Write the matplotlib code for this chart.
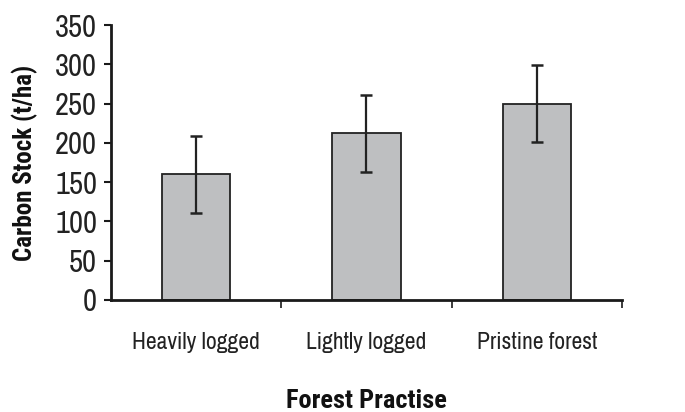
import matplotlib
matplotlib.use("Agg")
import matplotlib.pyplot as plt
from matplotlib import font_manager
import numpy as np

# values
practices = ["Heavily logged", "Lightly logged", "Pristine forest"]
carbon_stock = [160, 212, 250]
carbon_err = [49, 49, 49]
y_ticks = [0, 50, 100, 150, 200, 250, 300, 350]

# the reference uses a condensed grotesque; Archivo Narrow has no bold here,
# so the bold axis titles use Roboto Condensed
names = {f.name for f in font_manager.fontManager.ttflist}
body = "Archivo Narrow" if "Archivo Narrow" in names else "DejaVu Sans"
bold = "Roboto Condensed" if "Roboto Condensed" in names else "DejaVu Sans"
plt.rcParams["font.family"] = [body, "DejaVu Sans"]

fig = plt.figure(figsize=(6.85, 4.12), dpi=100)
ax = fig.add_axes([0.162, 0.272, 0.746, 0.667])

x = np.arange(len(practices))
ax.bar(x, carbon_stock, width=0.4, color="#bebfc1", edgecolor="#222222", linewidth=1.3, zorder=2)
ax.errorbar(x, carbon_stock, yerr=carbon_err, fmt="none", ecolor="#222222",
            elinewidth=1.6, capsize=4.5, capthick=1.8, zorder=3)

ax.set_xlim(-0.5, 2.5)
ax.set_ylim(0, 350)
ax.set_yticks(y_ticks)
ax.tick_params(axis="y", labelsize=22, length=5, width=1.5, pad=5, color="#1a1a1a",
               labelcolor="#222222")

# tick marks sit between the groups, labels in the middle
ax.set_xticks([0.5, 1.5, 2.5])
ax.set_xticklabels([])
ax.set_xticks(x, minor=True)
ax.set_xticklabels(practices, minor=True, fontsize=17, color="#222222")
ax.tick_params(axis="x", which="major", length=6, width=1.2, color="#1a1a1a")
ax.tick_params(axis="x", which="minor", length=0, pad=23)

for side in ["top", "right"]:
    ax.spines[side].set_visible(False)
for side in ["left", "bottom"]:
    ax.spines[side].set_linewidth(2)
    ax.spines[side].set_color("#1a1a1a")

ax.set_ylabel("Carbon Stock (t/ha)", fontsize=18, fontweight="bold", family=[bold, "DejaVu Sans"],
              labelpad=12, color="#111111")
ax.set_xlabel("Forest Practise", fontsize=19, fontweight="bold", family=[bold, "DejaVu Sans"],
              labelpad=26, color="#111111")

fig.savefig("out.png", dpi=100)
